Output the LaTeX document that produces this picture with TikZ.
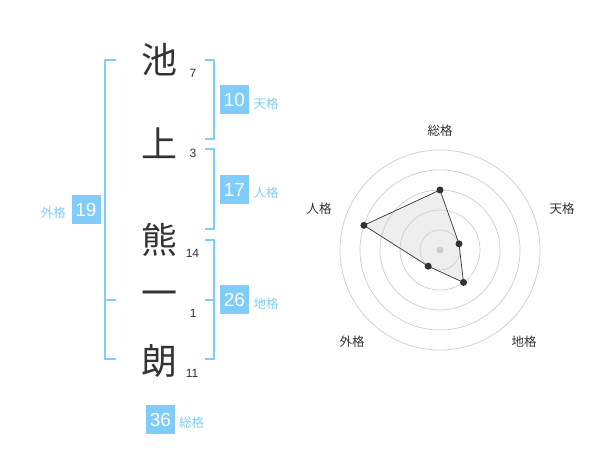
\documentclass[tikz,border=0pt]{standalone}
\usepackage{fontspec}
\setmainfont{Liberation Sans}
\newfontfamily\cjk{Noto Sans CJK JP}
\definecolor{kblue}{RGB}{128,204,250}
\definecolor{kdark}{RGB}{51,51,51}
\definecolor{kgrid}{RGB}{204,204,204}
\definecolor{kfill}{RGB}{238,238,238}
\begin{document}
\begin{tikzpicture}[x=1pt,y=-1pt,
 kanji/.style={font=\cjk\fontsize{36}{36}\selectfont, text=kdark, inner sep=0pt},
 strokes/.style={font=\fontsize{12}{12}\selectfont, text=kdark, inner sep=0pt},
 badge/.style={fill=kblue, text=white, minimum size=29pt, inner sep=0pt, font=\fontsize{19}{19}\selectfont},
 kaku/.style={font=\cjk\fontsize{12.5}{12.5}\selectfont, text=kblue, inner sep=0pt},
 brk/.style={draw=kblue, line width=1.8pt},
 axlbl/.style={font=\cjk\fontsize{12.5}{12.5}\selectfont, text=kdark, inner sep=0pt},
 ring/.style={draw=kgrid, line width=0.7pt},
 polyfill/.style={fill=kfill},
 polyline/.style={draw=kdark, line width=0.7pt},
 dot/.style={circle, fill=kdark, inner sep=0pt, minimum size=7pt}]
\useasboundingbox (0,0) rectangle (600,470);

% name characters
\node[kanji] (c1) at (159,60) {池};
\node[kanji] (c2) at (159,143) {上};
\node[kanji] (c3) at (159,240) {熊};
\node[kanji] (c4) at (159,299) {一};
\node[kanji] (c5) at (159,361) {朗};

% stroke counts
\node[strokes] (n1) at (193,73) {7};
\node[strokes] (n2) at (193,153) {3};
\node[strokes] (n3) at (192.5,253) {14};
\node[strokes] (n4) at (193.3,313) {1};
\node[strokes] (n5) at (192,373) {11};

% bracket corners
\coordinate (La) at (116,60);  \coordinate (Lb) at (105,60);
\coordinate (Lc) at (105,359); \coordinate (Ld) at (116,359);
\coordinate (Lm1) at (105,300); \coordinate (Lm2) at (116,300);
\coordinate (Ta) at (205,60);  \coordinate (Tb) at (214,60);
\coordinate (Tc) at (214,139); \coordinate (Td) at (205,139);
\coordinate (Ja) at (205,149); \coordinate (Jb) at (214,149);
\coordinate (Jc) at (214,229); \coordinate (Jd) at (205,229);
\coordinate (Ca) at (205,240); \coordinate (Cb) at (214,240);
\coordinate (Cc) at (214,359); \coordinate (Cd) at (205,359);
\coordinate (Cm1) at (205,300); \coordinate (Cm2) at (214,300);

\draw[brk] (La) -- (Lb) -- (Lc) -- (Ld);
\draw[brk] (Lm1) -- (Lm2);
\draw[brk] (Ta) -- (Tb) -- (Tc) -- (Td);
\draw[brk] (Ja) -- (Jb) -- (Jc) -- (Jd);
\draw[brk] (Ca) -- (Cb) -- (Cc) -- (Cd);
\draw[brk] (Cm1) -- (Cm2);

% badges and labels
\node[badge] (b10) at (234.5,100) {10};
\node[kaku] (k10) at (266,104) {天格};
\node[badge] (b17) at (234.5,190) {17};
\node[kaku] (k17) at (266,193) {人格};
\node[badge] (b19) at (86,210) {19};
\node[kaku] (k19) at (53.3,213) {外格};
\node[badge] (b26) at (234.5,300) {26};
\node[kaku] (k26) at (266,304) {地格};
\node[badge] (b36) at (160.5,419.5) {36};
\node[kaku] (k36) at (191.7,422.5) {総格};

% radar chart
\coordinate (O) at (440,250);
\coordinate (p1) at (440,190);
\coordinate (p2) at (459,243.8);
\coordinate (p3) at (463.5,282.4);
\coordinate (p4) at (428.2,266.2);
\coordinate (p5) at (363.9,225.3);
\fill[polyfill] (p1) -- (p2) -- (p3) -- (p4) -- (p5) -- cycle;
\foreach \r in {20,40,60,80,100} \draw[ring] (O) circle (\r pt);
\draw[polyline] (p1) -- (p2) -- (p3) -- (p4) -- (p5) -- cycle;
\fill[kgrid] (O) circle (3.5pt);
\node[dot] (d1) at (p1) {};
\node[dot] (d2) at (p2) {};
\node[dot] (d3) at (p3) {};
\node[dot] (d4) at (p4) {};
\node[dot] (d5) at (p5) {};
\node[axlbl] (a1) at (440,131) {総格};
\node[axlbl] (a2) at (562,209) {天格};
\node[axlbl] (a3) at (524,342) {地格};
\node[axlbl] (a4) at (352,342) {外格};
\node[axlbl] (a5) at (319,209) {人格};
\end{tikzpicture}
\end{document}
